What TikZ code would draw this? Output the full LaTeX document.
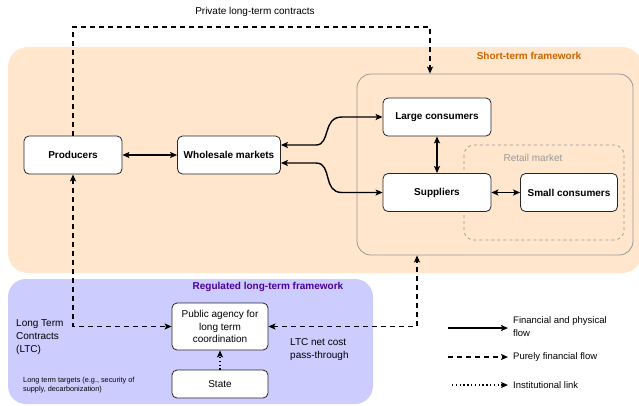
\documentclass[tikz,border=0pt]{standalone}
\usepackage{fontspec}
\setmainfont{Liberation Sans}
\usetikzlibrary{arrows.meta,calc}
\definecolor{orfill}{HTML}{FFE6CC}
\definecolor{ortext}{HTML}{CC6600}
\definecolor{blfill}{HTML}{CCCCFF}
\definecolor{bltext}{HTML}{4C0099}
\definecolor{grline}{HTML}{999999}
\tikzset{
  box/.style={draw=black!85,fill=white,rounded corners=5pt,line width=0.8pt,align=center,inner sep=2pt,minimum height=38pt},
  bbox/.style={box,font=\fontsize{10}{12}\selectfont\bfseries},
  rbox/.style={box,font=\fontsize{10}{12.5}\selectfont},
  flow/.style={line width=1.4pt,{Stealth[length=7pt,width=6pt,inset=1.5pt]}-{Stealth[length=7pt,width=6pt,inset=1.5pt]}},
  oneway/.style={line width=1.4pt,-{Stealth[length=7pt,width=6pt,inset=1.5pt]}},
  fin/.style={dash pattern=on 5pt off 4pt},
  inst/.style={dash pattern=on 1.3pt off 2.5pt},
  lbl/.style={font=\fontsize{10}{13}\selectfont,align=left,inner sep=0pt},
}
\begin{document}
\begin{tikzpicture}[x=1pt,y=-1pt]
\useasboundingbox (0,0) rectangle (639,405);
% regions
\fill[orfill,rounded corners=20pt] (8,47) rectangle (642,273);
\fill[blfill,rounded corners=18pt] (8,279) rectangle (373,404);
\node[draw=grline,line width=0.8pt,rounded corners=14pt,minimum width=276pt,minimum height=181pt,inner sep=0pt] (ltc) at (495,164.5) {};
\draw[grline,dashed,line width=0.7pt,rounded corners=10pt] (464,145) rectangle (624,240);
\node[text=grline,font=\fontsize{10}{12}\selectfont] (retail) at (533,158) {Retail market};
\node[text=ortext,font=\fontsize{10}{12}\selectfont\bfseries] (stf) at (529,56) {Short-term framework};
\node[text=bltext,font=\fontsize{10}{12}\selectfont\bfseries] (rlf) at (268,287) {Regulated long-term framework};
% nodes
\node[bbox,minimum width=98pt] (prod) at (73,155) {Producers};
\node[bbox,minimum width=103pt] (whole) at (229,155) {Wholesale markets};
\node[bbox,minimum width=108pt] (large) at (437,117) {Large consumers};
\node[bbox,minimum width=108pt] (supp) at (437,192.5) {Suppliers};
\node[bbox,minimum width=97pt] (small) at (569,192.5) {Small consumers};
\node[rbox,minimum width=96pt,minimum height=47pt] (agency) at (220,326.5) {Public agency for\\long term\\coordination};
\node[rbox,minimum width=96pt,minimum height=28pt] (state) at (220,384) {State};
% connectors
\draw[flow] (prod) -- (whole);
\draw[flow] ([yshift=10pt]whole.east) -- ++(35,0) .. controls ++(15,0) and (322,117) .. (342,117) -- (large.west);
\draw[flow] ([yshift=-8pt]whole.east) -- ++(35,0) .. controls ++(17,0) and (322,192.5) .. (342,192.5) -- (supp.west);
\draw[flow] (large) -- (supp);
\draw[flow] (supp) -- (small);
\coordinate (plc) at (430,27);
\draw[oneway,fin] (prod.north) |- (plc) -- (plc |- ltc.north);
\node[font=\fontsize{10}{12}\selectfont] (plclbl) at (255,12) {Private long-term contracts};
\draw[flow,fin] (prod.south) |- (agency.west);
\draw[flow,fin] (agency.east) -| ([xshift=-78pt]ltc.south);
\draw[oneway,inst,line width=1.2pt] (state.north) -- (agency.south);
% labels
\node[lbl,anchor=west] (ltclbl) at (16,337) {Long Term\\Contracts\\(LTC)};
\node[lbl,anchor=west,font=\fontsize{7.3}{9}\selectfont] (tgt) at (23,385) {Long term targets (e.g., security of\\supply, decarbonization)};
\node[lbl,anchor=west] (pass) at (290,349.5) {LTC net cost\\pass-through};
% legend
\coordinate (l1a) at (448,328); \coordinate (l1b) at (508,328);
\coordinate (l2a) at (448,357); \coordinate (l2b) at (508,357);
\coordinate (l3a) at (452,385); \coordinate (l3b) at (508,385);
\draw[oneway] (l1a) -- (l1b);
\draw[oneway,fin] (l2a) -- (l2b);
\draw[oneway,inst,line width=1.2pt] (l3a) -- (l3b);
\node[lbl,anchor=west,font=\fontsize{9.5}{12.5}\selectfont] (t1) at (513,326.5) {Financial and physical\\flow};
\node[lbl,anchor=west,font=\fontsize{9.5}{12}\selectfont] (t2) at (513,357) {Purely financial flow};
\node[lbl,anchor=west,font=\fontsize{9.5}{12}\selectfont] (t3) at (513,385) {Institutional link};
\end{tikzpicture}
\end{document}
